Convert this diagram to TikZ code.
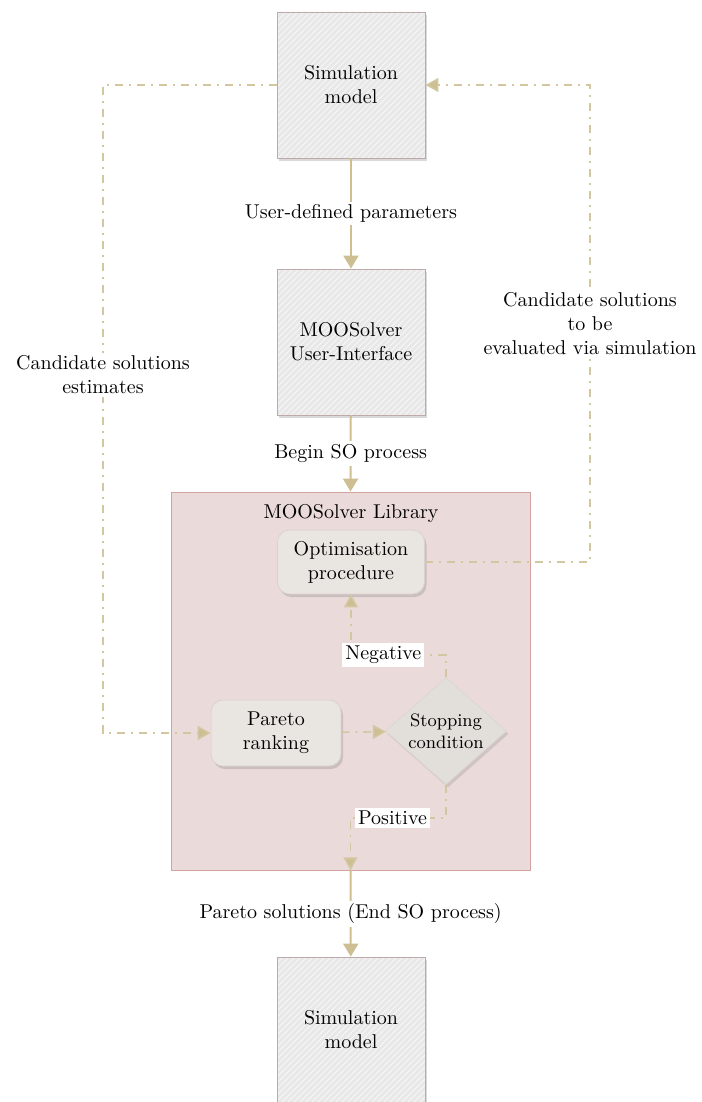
\documentclass[tikz,border=0pt]{standalone}
\usepackage{amsmath}
\usepackage{tikz}
\usetikzlibrary{positioning, calc, arrows.meta, shapes.geometric, shadows, patterns}
\definecolor{flowcol}{HTML}{CDBF92}
\definecolor{dashcol}{HTML}{D3C7A2}
\definecolor{simfill}{HTML}{E9E8E8}
\definecolor{simline}{HTML}{BFAAAA}
\definecolor{libfill}{HTML}{EBDADA}
\definecolor{libline}{HTML}{D4A39E}
\definecolor{stepfill}{HTML}{E9E5E1}
\definecolor{stepline}{HTML}{DAD3CD}

\begin{document}
\begin{tikzpicture}[x=0.5pt, y=-0.5pt,
    simbox/.style={fill=simfill, minimum width=74pt, minimum height=73pt, align=center,
      drop shadow={opacity=0.3, shadow xshift=1pt, shadow yshift=-1.5pt},
      postaction={pattern=north east lines, pattern color=simfill!35!white},
      postaction={draw=simline}},
    stepbox/.style={draw=stepline, fill=stepfill, rounded corners=6pt, minimum width=73.5pt, minimum height=32pt, align=center,
      drop shadow={opacity=0.3, shadow xshift=1pt, shadow yshift=-1.5pt}},
    testbox/.style={diamond, fill=stepfill!97!black, draw=stepfill!94!black, inner sep=0pt, aspect=1.15, minimum width=60.5pt, minimum height=53.5pt,
      align=center, font=\small, drop shadow={opacity=0.25, shadow xshift=1pt, shadow yshift=-1.5pt}},
    flow/.style={draw=flowcol, line width=1pt, -{Triangle[width=7.5pt, length=6.5pt]}},
    dd/.style={draw=dashcol, line width=0.8pt, dash pattern=on 4pt off 3pt on 1pt off 3pt},
    ddarrow/.style={dd, -{Triangle[width=7pt, length=6.5pt, fill=flowcol]}},
    lbl/.style={fill=white, inner sep=1.5pt, align=center},
  ]
  \useasboundingbox (0,0) rectangle (701,1102);
  \clip (0,0) rectangle (701,1102);

  % library frame and its title
  \node[draw=libline, fill=libfill, minimum width=179.5pt, minimum height=189pt] (LIB) at (350.5,681) {};
  \node (LIBTITLE) at (351,513) {MOOSolver Library};

  \node[simbox] (SIM1) at (351,85) {Simulation\\model};
  \node[simbox] (UI) at (351,342) {MOOSolver\\User-Interface};
  \node[simbox] (SIM2) at (351,1030) {Simulation\\model};

  \node[stepbox] (OPT) at (351,562) {Optimisation\\procedure};
  \node[stepbox, minimum width=65pt, minimum height=33pt] (RANK) at (276,733) {Pareto\\ranking};
  \node[testbox] (STOP) at (446,731) {Stopping\\condition};

  \coordinate (LT) at (103,85);
  \coordinate (LB) at (103,733);
  \coordinate (RB) at (590,562);
  \coordinate (RT) at (590,85);
  \coordinate (NEGC) at (446,655);
  \coordinate (POSC) at (446,818);

  % solid flow
  \draw[flow] (SIM1) -- node[lbl] {User-defined parameters} (UI);
  \draw[flow] (UI) -- node[lbl] {Begin SO process} (LIB.north);
  \draw[flow] (LIB.south) -- node[lbl] {Pareto solutions (End SO process)} (SIM2);

  % dash-dot flow
  \draw[ddarrow] (SIM1.west) -- (LT) -- node[lbl, pos=0.447] {Candidate solutions\\estimates} (LB) -- (RANK.west);
  \draw[ddarrow] (OPT.east) -- (RB) -- node[lbl] {Candidate solutions\\to be\\evaluated via simulation} (RT) -- (SIM1.east);
  \draw[ddarrow] (RANK) -- (STOP);
  \draw[ddarrow] (STOP.north) -- (NEGC) -| node[lbl, pos=0.33] {Negative} (OPT.south);
  \draw[ddarrow] (STOP.south) -- (POSC) -| node[lbl, pos=0.28] {Positive} (LIB.south);
\end{tikzpicture}
\end{document}
